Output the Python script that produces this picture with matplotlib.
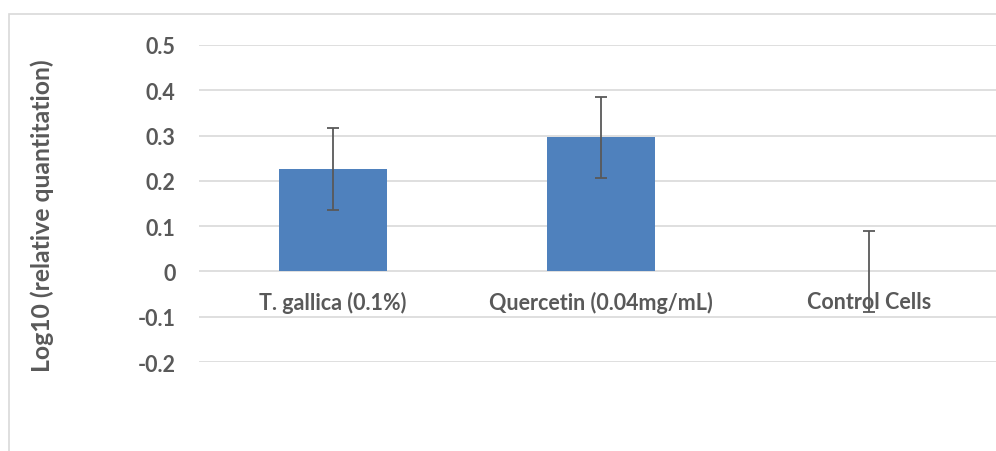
"""
Bar chart of log10 relative quantitation with error bars (Excel-style look).
"""

import matplotlib
matplotlib.use("Agg")
import matplotlib.pyplot as plt
from matplotlib.patches import Rectangle

categories = ["T. gallica (0.1%)", "Quercetin (0.04mg/mL)", "Control Cells"]
values = [0.226, 0.296, 0.0]
errors = [0.090, 0.090, 0.090]
yticks = [-0.2, -0.1, 0, 0.1, 0.2, 0.3, 0.4, 0.5]
ytick_labels = ["-0.2", "-0.1", "0", "0.1", "0.2", "0.3", "0.4", "0.5"]

W, H = 996, 452
TEXT = "#595959"
GRID = "#D9D9D9"
BAR = "#4F81BD"

plt.rcParams["font.family"] = ["Lato", "DejaVu Sans"]
plt.rcParams["font.weight"] = "bold"


def main():
	fig = plt.figure(figsize = (W / 100, H / 100), dpi = 100)
	# plot area runs past the right edge of the picture, as in the reference
	ax = fig.add_axes([199 / W, 89 / H, 804 / W, 317 / H])
	x = list(range(len(categories)))
	ax.bar(x, values, width = 0.4, color = BAR, zorder = 2)
	ax.errorbar(x, values, yerr = errors, fmt = "none", ecolor = TEXT,
		elinewidth = 1.3, capsize = 4, capthick = 1.3, zorder = 5)
	ax.set_xlim(-0.5, 2.5)
	ax.set_ylim(-0.2, 0.5)
	ax.set_yticks(yticks)
	ax.set_yticklabels(ytick_labels)
	ax.set_xticks(x)
	ax.set_xticklabels(categories)
	ax.spines["bottom"].set_position(("data", 0))
	for s in ax.spines.values():
		s.set_visible(False)
	ax.set_axisbelow(True)
	ax.grid(axis = "y", color = GRID, linewidth = 1.2)
	ax.tick_params(axis = "y", length = 0, pad = 17, labelsize = 15.5,
		labelcolor = TEXT)
	ax.tick_params(axis = "x", length = 0, pad = 14, labelsize = 15.5,
		labelcolor = TEXT)
	fig.text(42 / W, 1 - 216 / H, "Log10 (relative quantitation)",
		rotation = 90, ha = "center", va = "center", fontsize = 17.8,
		color = TEXT, fontweight = "bold")
	# chart border (cut off at right and bottom)
	fig.patches.append(Rectangle((9 / W, -0.1), 1.2, 1.1 - 15 / H,
		transform = fig.transFigure, fill = False, edgecolor = GRID,
		linewidth = 1.2))
	fig.savefig("out.png", dpi = 100)


if __name__ == "__main__":
	main()
